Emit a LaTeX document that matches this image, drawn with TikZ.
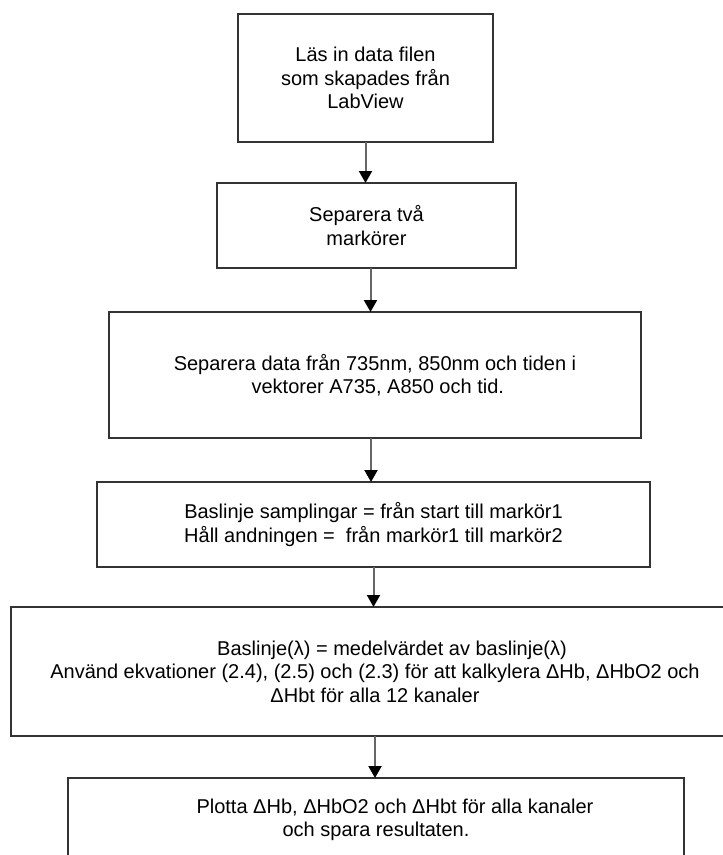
\documentclass[tikz,border=0pt]{standalone}
\usepackage{fontspec}
\setmainfont{Liberation Sans}
\usetikzlibrary{arrows.meta,positioning}

\begin{document}
\begin{tikzpicture}[x=1pt, y=1pt, every node/.style={font=\fontsize{20}{23.5}\selectfont},
  box/.style={rectangle, draw=black!80, line width=1.3pt, align=center, inner sep=0pt, outer sep=0pt},
  arr/.style={-{Triangle[length=12pt,width=13pt,color=black]}, draw=black!60, line width=2pt}]
\clip (0,0) rectangle (723,-855);
\node[box, minimum width=255pt, minimum height=128pt] (lasin) at (365.5,-78) {Läs in data filen\\som skapades från\\LabView};
\node[box, minimum width=299pt, minimum height=85pt, below=41pt of lasin, xshift=1pt] (markorer) {Separera två\\markörer};
\node[box, minimum width=532pt, minimum height=126pt, below=44pt of markorer, xshift=8.5pt] (vektorer) {Separera data från 735nm, 850nm och tiden i\\\ vektorer A735, A850 och tid.};
\node[box, minimum width=553pt, minimum height=85pt, below=44pt of vektorer, xshift=-1.5pt] (baslinje) {Baslinje samplingar = från start till markör1\\Håll andningen = \ från markör1 till markör2};
\node[box, minimum width=728pt, minimum height=129pt, below=40pt of baslinje, xshift=1.5pt] (medel) {\hspace*{34pt}Baslinje(λ) = medelvärdet av baslinje(λ)\\Använd ekvationer (2.4), (2.5) och (2.3) för att kalkylera ΔHb, ΔHbO2 och\\ΔHbt för alla 12 kanaler};
\node[box, minimum width=616pt, minimum height=84pt, below=42pt of medel, xshift=1pt] (plotta) {\hspace*{38pt}Plotta ΔHb, ΔHbO2 och ΔHbt för alla kanaler\\och spara resultaten.};
\draw[arr] (lasin.south) -- (lasin.south |- markorer.north);
\draw[arr] ([xshift=4pt]markorer.south) -- ([xshift=4pt]markorer.south |- vektorer.north);
\draw[arr] ([xshift=-4pt]vektorer.south) -- ([xshift=-4pt]vektorer.south |- baslinje.north);
\draw[arr] (baslinje.south) -- (baslinje.south |- medel.north);
\draw[arr] (medel.south) -- (medel.south |- plotta.north);
\end{tikzpicture}
\end{document}
